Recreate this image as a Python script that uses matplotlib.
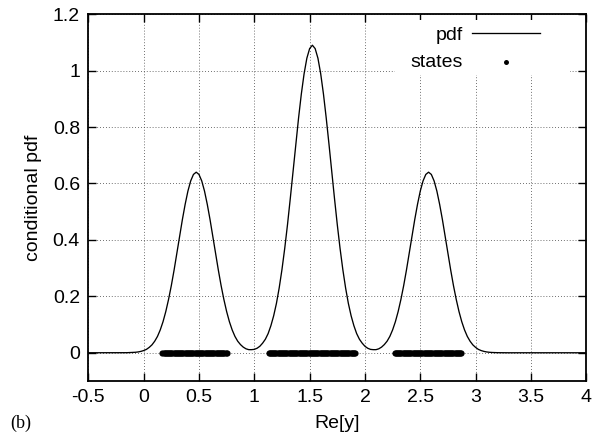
import numpy as np
import matplotlib
matplotlib.use("Agg")
import matplotlib.pyplot as plt
from matplotlib.patches import Rectangle

plt.rcParams["font.family"] = ["Liberation Sans", "DejaVu Sans"]

# conditional pdf (tails, then 0.025 steps from 0 to 3.05, then tails)
pdf_x = ([-0.5, -0.3, -0.2, -0.15, -0.1, -0.075, -0.05, -0.025]
         + list(np.round(np.arange(0.0, 3.0501, 0.025), 3))
         + [3.075, 3.1, 3.125, 3.15, 3.2, 3.3, 4.0])
pdf_y = ([0.0, 0.0, 0.0001, 0.0003, 0.001, 0.0017, 0.0029, 0.0049]
         + [0.0078, 0.012, 0.019, 0.028, 0.041, 0.058, 0.081, 0.110, 0.146, 0.189,
            0.238, 0.293, 0.352, 0.412, 0.472, 0.526, 0.573, 0.609, 0.632, 0.640,
            0.632, 0.609, 0.573, 0.526, 0.472, 0.412, 0.352, 0.293, 0.238, 0.189,
            0.146, 0.110, 0.081, 0.058, 0.041, 0.029, 0.020, 0.014, 0.011, 0.011,
            0.012, 0.016, 0.023, 0.034, 0.048, 0.068, 0.096, 0.131, 0.175, 0.230,
            0.295, 0.370, 0.454, 0.546, 0.642, 0.739, 0.832, 0.917, 0.989, 1.044,
            1.078, 1.090, 1.078, 1.044, 0.989, 0.917, 0.832, 0.739, 0.642, 0.546,
            0.454, 0.370, 0.295, 0.230, 0.175, 0.131, 0.096, 0.068, 0.048, 0.034,
            0.023, 0.016, 0.012, 0.011, 0.011, 0.014, 0.020, 0.029, 0.041, 0.058,
            0.081, 0.110, 0.146, 0.189, 0.238, 0.293, 0.352, 0.412, 0.472, 0.526,
            0.573, 0.609, 0.632, 0.640, 0.632, 0.609, 0.573, 0.526, 0.472, 0.412,
            0.352, 0.293, 0.238, 0.189, 0.146, 0.110, 0.081, 0.058, 0.041, 0.028,
            0.019, 0.012, 0.0078]
         + [0.0049, 0.0029, 0.0017, 0.001, 0.0003, 0.0, 0.0])

# state positions (all at pdf level 0), three dense clusters
states_x = [0.17, 0.18, 0.19, 0.20, 0.21, 0.22, 0.23, 0.24, 0.25, 0.26, 0.27, 0.28,
            0.29, 0.30, 0.31, 0.32, 0.33, 0.34, 0.35, 0.36, 0.37, 0.38, 0.39, 0.40,
            0.41, 0.42, 0.43, 0.44, 0.45, 0.46, 0.47, 0.48, 0.49, 0.50, 0.51, 0.52,
            0.53, 0.54, 0.55, 0.56, 0.57, 0.58, 0.59, 0.60, 0.61, 0.62, 0.63, 0.64,
            0.65, 0.66, 0.67, 0.68, 0.69, 0.70, 0.71, 0.72, 0.73, 0.74, 0.75,
            1.13, 1.14, 1.15, 1.16, 1.17, 1.18, 1.19, 1.20, 1.21, 1.22, 1.23, 1.24,
            1.25, 1.26, 1.27, 1.28, 1.29, 1.30, 1.31, 1.32, 1.33, 1.34, 1.35, 1.36,
            1.37, 1.38, 1.39, 1.40, 1.41, 1.42, 1.43, 1.44, 1.45, 1.46, 1.47, 1.48,
            1.49, 1.50, 1.51, 1.52, 1.53, 1.54, 1.55, 1.56, 1.57, 1.58, 1.59, 1.60,
            1.61, 1.62, 1.63, 1.64, 1.65, 1.66, 1.67, 1.68, 1.69, 1.70, 1.71, 1.72,
            1.73, 1.74, 1.75, 1.76, 1.77, 1.78, 1.79, 1.80, 1.81, 1.82, 1.83, 1.84,
            1.85, 1.86, 1.87, 1.88, 1.89, 1.90, 1.91,
            2.27, 2.28, 2.29, 2.30, 2.31, 2.32, 2.33, 2.34, 2.35, 2.36, 2.37, 2.38,
            2.39, 2.40, 2.41, 2.42, 2.43, 2.44, 2.45, 2.46, 2.47, 2.48, 2.49, 2.50,
            2.51, 2.52, 2.53, 2.54, 2.55, 2.56, 2.57, 2.58, 2.59, 2.60, 2.61, 2.62,
            2.63, 2.64, 2.65, 2.66, 2.67, 2.68, 2.69, 2.70, 2.71, 2.72, 2.73, 2.74,
            2.75, 2.76, 2.77, 2.78, 2.79, 2.80, 2.81, 2.82, 2.83, 2.84, 2.85, 2.86,
            2.87]
states_y = [0.0] * len(states_x)

x_ticks = [-0.5, 0, 0.5, 1, 1.5, 2, 2.5, 3, 3.5, 4]
x_labels = ["-0.5", "0", "0.5", "1", "1.5", "2", "2.5", "3", "3.5", "4"]
y_ticks = [0, 0.2, 0.4, 0.6, 0.8, 1.0, 1.2]
y_labels = ["0", "0.2", "0.4", "0.6", "0.8", "1", "1.2"]

FS = 14

fig = plt.figure(figsize=(6.05, 4.43), dpi=100)
ax = fig.add_axes([0.146, 0.140, 0.823, 0.828])

ax.plot(pdf_x, pdf_y, color="k", lw=0.95, label="pdf", zorder=3)
ax.scatter(states_x, states_y, s=20, c="k", linewidths=0, label="states", zorder=4)

ax.set_xlim(-0.5, 4)
ax.set_ylim(-0.1, 1.2)
ax.set_xticks(x_ticks)
ax.set_xticklabels(x_labels, fontsize=FS)
ax.set_yticks(y_ticks)
ax.set_yticklabels(y_labels, fontsize=FS)
ax.tick_params(direction="in", length=5.5, width=1.0, top=True, right=True, pad=6)
ax.grid(True, color="0.25", ls=(0, (1, 2.5)), lw=0.6)
for s in ax.spines.values():
    s.set_linewidth(1.3)

ax.set_xlabel("Re[y]", fontsize=FS, labelpad=6)
ax.set_ylabel("conditional pdf", fontsize=FS, labelpad=8)

# white area behind the key hides the grid there
ax.add_patch(Rectangle((0.615, 0.834), 0.353, 0.150, transform=ax.transAxes,
                       facecolor="white", edgecolor="none", zorder=1.6))
ax.legend(loc="upper right", bbox_to_anchor=(0.9076, 0.967), frameon=False,
          markerfirst=False, fontsize=FS, handlelength=3.5, handletextpad=0.5,
          borderpad=0, borderaxespad=0, labelspacing=0.5, scatterpoints=1,
          markerscale=0.8)

fig.text(0.017, 0.035, "(b)", fontsize=FS - 1,
         family=["Liberation Serif", "DejaVu Serif"])

fig.savefig("out.png", dpi=100)
